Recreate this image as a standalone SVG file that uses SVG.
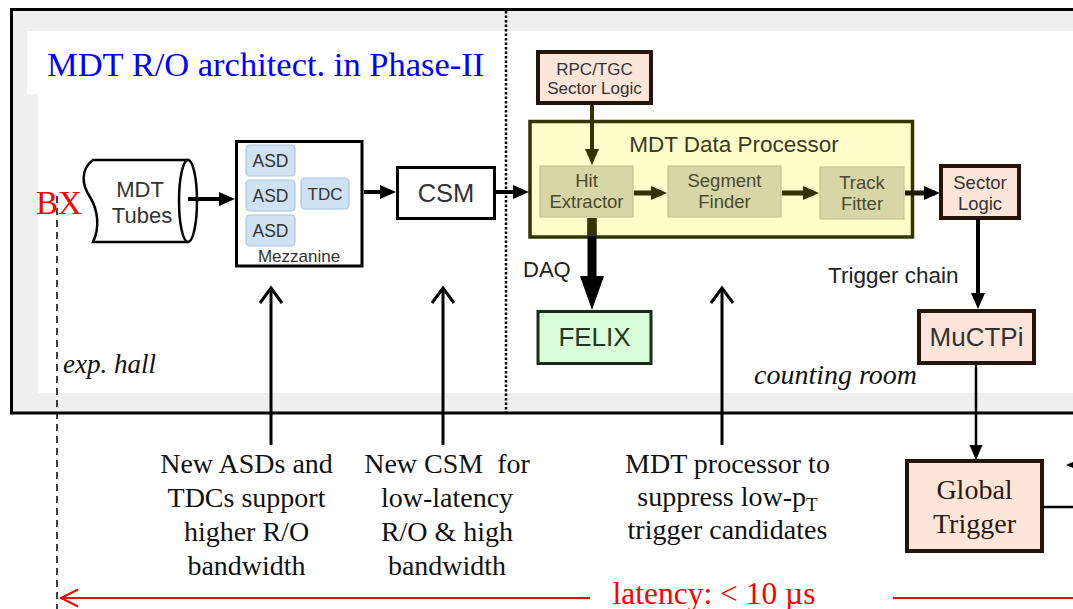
<svg xmlns="http://www.w3.org/2000/svg" width="1073" height="609" viewBox="0 0 1073 609">
<style>
.sans{font-family:"Liberation Sans",Arial,sans-serif}
.serif{font-family:"Liberation Serif","Times New Roman",serif}
.lbl{fill:#333;text-anchor:middle}
.inner{fill:#d6d6a6;stroke:#c3c392;stroke-width:1.2}
.innertxt{fill:#4a4a2e;font-size:18.5px;text-anchor:middle}
.salmon{fill:#fde5d9;stroke:#24140a;stroke-width:4}
.asd{fill:#cfe2f3;stroke:#a9c4da;stroke-width:1.2}
.note{font-size:28px;fill:#111;text-anchor:middle}
.blk{stroke:#000;fill:none}
.olv{stroke:#333300;fill:none}
</style>
<defs>
<marker id="ah" markerUnits="userSpaceOnUse" markerWidth="16" markerHeight="14" refX="11" refY="7" orient="auto" overflow="visible"><path d="M0,0 L16,7 L0,14 Z" fill="#000"/></marker>
<marker id="aho" markerUnits="userSpaceOnUse" markerWidth="16" markerHeight="14" refX="11" refY="7" orient="auto" overflow="visible"><path d="M0,0 L16,7 L0,14 Z" fill="#333300"/></marker>
<marker id="ahbig" markerUnits="userSpaceOnUse" markerWidth="34" markerHeight="24" refX="21" refY="12" orient="auto" overflow="visible"><path d="M0,0 L34,12 L0,24 Z" fill="#000"/></marker>
<marker id="ahthin" markerUnits="userSpaceOnUse" markerWidth="15" markerHeight="13" refX="12" refY="6.5" orient="auto" overflow="visible"><path d="M0,0 L15,6.5 L0,13 Z" fill="#000"/></marker>
<marker id="chev" markerUnits="userSpaceOnUse" markerWidth="16" markerHeight="24" refX="15" refY="0" orient="auto" overflow="visible"><path d="M0,-11 L15,0 L0,11" fill="none" stroke="#000" stroke-width="3"/></marker>
<marker id="chevR" markerUnits="userSpaceOnUse" markerWidth="17" markerHeight="18" refX="17" refY="0" orient="auto" overflow="visible"><path d="M0,-8.5 L17,0 L0,8.5" fill="none" stroke="#ff0000" stroke-width="2"/></marker>
</defs>

<g id="frame">
<rect x="11.5" y="9.5" width="1080" height="403.5" fill="#efefef" stroke="#000" stroke-width="3"/>
<rect x="38" y="31" width="1045" height="362" fill="#fff"/>
<rect x="27" y="31" width="12" height="63" fill="#fff"/>
<line x1="506" y1="11" x2="506" y2="412" stroke="#000" stroke-width="2.5" stroke-dasharray="2.5 2"/>
<text x="47" y="76" class="serif" font-size="34.5" fill="#0000ff">MDT R/O architect. in Phase-II</text>
<text x="63" y="373" class="serif" font-size="27" font-style="italic" fill="#111">exp. hall</text>
<text x="754" y="384" class="serif" font-size="28" font-style="italic" fill="#111">counting room</text>
</g>

<g id="bx">
<line x1="57" y1="196" x2="57" y2="609" stroke="#000" stroke-width="1.5" stroke-dasharray="7 5"/>
<text x="59" y="214" class="serif" font-size="33" fill="#ff0000" text-anchor="middle">BX</text>
</g>

<g id="tubes">
<path d="M93,160 L188,160 L188,242 L93,242 C100,228 98,210 90,197 C82,185 80,170 93,160 Z" fill="#fff" stroke="#000" stroke-width="2.5"/>
<ellipse cx="188" cy="201" rx="9" ry="41" fill="#fff" stroke="#000" stroke-width="2.5"/>
<text x="140" y="197" class="sans lbl" font-size="22">MDT</text>
<text x="142" y="223" class="sans lbl" font-size="22">Tubes</text>
</g>

<g id="mezzanine">
<rect x="236.5" y="141.5" width="125.5" height="124.5" fill="#fff" stroke="#000" stroke-width="3"/>
<rect x="246" y="145" width="49" height="31" rx="4" class="asd"/>
<rect x="246" y="180" width="49" height="31" rx="4" class="asd"/>
<rect x="246" y="215" width="49" height="31" rx="4" class="asd"/>
<rect x="301" y="178" width="48" height="31" rx="4" class="asd"/>
<text x="270.5" y="166.5" class="sans lbl" font-size="17.5">ASD</text>
<text x="270.5" y="201.5" class="sans lbl" font-size="17.5">ASD</text>
<text x="270.5" y="236.5" class="sans lbl" font-size="17.5">ASD</text>
<text x="325" y="199.5" class="sans lbl" font-size="17">TDC</text>
<text x="299" y="262" class="sans lbl" font-size="17">Mezzanine</text>
</g>

<g id="csm">
<rect x="397.5" y="167.5" width="97" height="51" fill="#fff" stroke="#000" stroke-width="3"/>
<text x="446" y="202" class="sans lbl" font-size="25.5" fill="#222">CSM</text>
</g>

<g id="rpc">
<rect x="538" y="52" width="113" height="51" class="salmon"/>
<text x="594.5" y="75" class="sans lbl" font-size="17">RPC/TGC</text>
<text x="594.5" y="94" class="sans lbl" font-size="17">Sector Logic</text>
</g>

<g id="processor">
<rect x="530" y="121.5" width="382.5" height="115.5" fill="#ffffcc" stroke="#333300" stroke-width="3.5"/>
<text x="734" y="152" class="sans" font-size="22.5" fill="#3a3a22" text-anchor="middle">MDT Data Processor</text>
</g>

<g id="hit">
<rect x="540" y="166" width="93" height="51" class="inner"/>
<text x="586.5" y="187" class="sans innertxt">Hit</text>
<text x="586.5" y="208" class="sans innertxt">Extractor</text>
</g>

<g id="segment">
<rect x="668" y="166" width="113" height="51" class="inner"/>
<text x="724.5" y="187" class="sans innertxt">Segment</text>
<text x="724.5" y="208" class="sans innertxt">Finder</text>
</g>

<g id="track">
<rect x="820" y="167" width="84" height="52" class="inner"/>
<text x="862" y="189" class="sans innertxt">Track</text>
<text x="862" y="210" class="sans innertxt">Fitter</text>
</g>

<g id="sector">
<rect x="941" y="166" width="78" height="52" class="salmon"/>
<text x="980" y="188.5" class="sans lbl" font-size="18.5">Sector</text>
<text x="980" y="209.5" class="sans lbl" font-size="18.5">Logic</text>
</g>

<g id="felix">
<rect x="538" y="311.5" width="113" height="52" fill="#d9fcd9" stroke="#1a2a1a" stroke-width="3"/>
<text x="594.5" y="346" class="sans" font-size="26" fill="#1e3a1e" text-anchor="middle">FELIX</text>
</g>

<g id="muctpi">
<rect x="919" y="311" width="115" height="52" class="salmon"/>
<text x="976.5" y="346" class="sans lbl" font-size="26">MuCTPi</text>
</g>

<g id="global">
<rect x="907" y="461" width="135" height="90" class="salmon"/>
<text x="974.5" y="499" class="serif" font-size="28" fill="#2b1a10" text-anchor="middle">Global</text>
<text x="974.5" y="533" class="serif" font-size="28" fill="#2b1a10" text-anchor="middle">Trigger</text>
</g>

<g id="connectors">
<line x1="188" y1="199" x2="230" y2="199" class="blk" stroke-width="4" marker-end="url(#ah)"/>
<line x1="364" y1="192" x2="391" y2="192" class="blk" stroke-width="4" marker-end="url(#ah)"/>
<line x1="496" y1="192" x2="524" y2="192" class="blk" stroke-width="4" marker-end="url(#ah)"/>
<line x1="592" y1="105" x2="592" y2="160" class="olv" stroke-width="4" marker-end="url(#aho)"/>
<line x1="634" y1="193" x2="662" y2="193" class="olv" stroke-width="5" marker-end="url(#aho)"/>
<line x1="782" y1="193" x2="814" y2="193" class="olv" stroke-width="5" marker-end="url(#aho)"/>
<line x1="905" y1="193" x2="935" y2="193" stroke="#1a1a00" stroke-width="5" marker-end="url(#ah)"/>
<line x1="592" y1="218" x2="592" y2="297" class="blk" stroke-width="9" marker-end="url(#ahbig)"/>
<line x1="592" y1="218" x2="592" y2="236" class="olv" stroke-width="9"/>
<line x1="978" y1="219" x2="978" y2="304" class="blk" stroke-width="4" marker-end="url(#ah)"/>
<line x1="976" y1="364" x2="976" y2="457" class="blk" stroke-width="2.5" marker-end="url(#ahthin)"/>
<line x1="1043" y1="507" x2="1080" y2="507" class="blk" stroke-width="2.5"/>
<line x1="1085" y1="465" x2="1069" y2="465" class="blk" stroke-width="2.5" marker-end="url(#ahthin)"/>
<line x1="271" y1="445" x2="271" y2="288" class="blk" stroke-width="3" marker-end="url(#chev)"/>
<line x1="443" y1="445" x2="443" y2="288" class="blk" stroke-width="3" marker-end="url(#chev)"/>
<line x1="722" y1="445" x2="722" y2="288" class="blk" stroke-width="3" marker-end="url(#chev)"/>
<line x1="590" y1="598" x2="61" y2="598" stroke="#ff0000" stroke-width="2" marker-end="url(#chevR)"/>
<line x1="893" y1="598" x2="1080" y2="598" stroke="#ff0000" stroke-width="2"/>
</g>

<text x="523" y="277" class="sans" font-size="22" fill="#222">DAQ</text>
<text x="828" y="283" class="sans" font-size="22.5" fill="#222">Trigger chain</text>

<g id="notes">
<text x="246.5" y="473" class="serif note">New ASDs and</text>
<text x="246.5" y="507" class="serif note">TDCs support</text>
<text x="246.5" y="541" class="serif note">higher R/O</text>
<text x="246.5" y="575" class="serif note">bandwidth</text>
<text x="447" y="473" class="serif note" xml:space="preserve">New CSM  for</text>
<text x="447" y="507" class="serif note">low-latency</text>
<text x="447" y="541" class="serif note">R/O &amp; high</text>
<text x="447" y="575" class="serif note">bandwidth</text>
<text x="727.5" y="473" class="serif note">MDT processor to</text>
<text x="727.5" y="506" class="serif note">suppress low-p<tspan font-size="19" dy="5">T</tspan></text>
<text x="727.5" y="539" class="serif note">trigger candidates</text>
<text x="714" y="604" class="serif" font-size="31.5" fill="#ff0000" text-anchor="middle">latency: &lt; 10 µs</text>
</g>
</svg>
